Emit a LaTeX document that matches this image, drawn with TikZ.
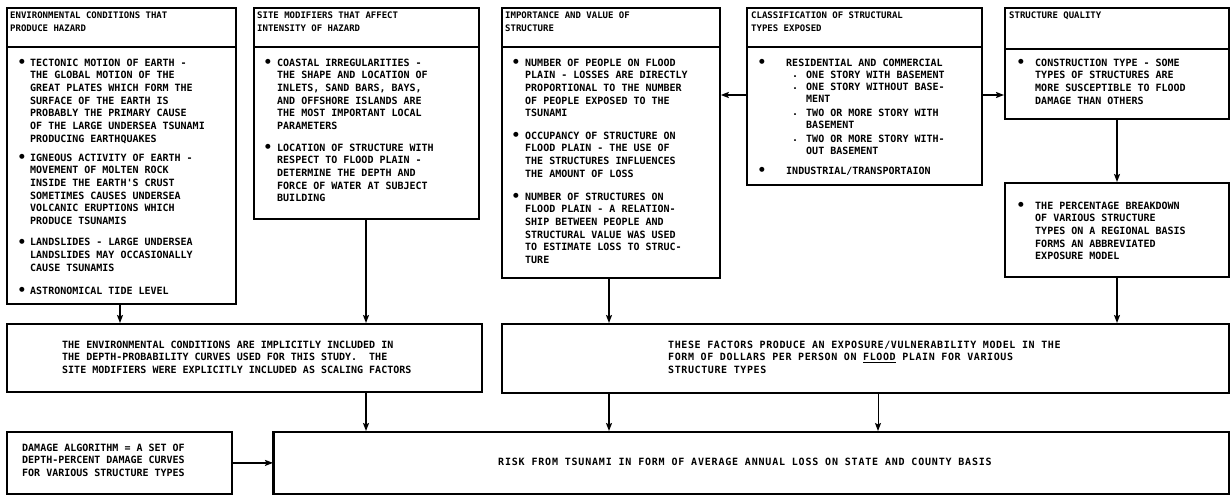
\documentclass[tikz,border=0pt]{standalone}
\usepackage{fontspec}
\newfontfamily\lettering{DejaVu Sans Mono}
\newfontfamily\symbols{DejaVu Sans}
\usetikzlibrary{arrows.meta,calc}
\begin{document}
\begin{tikzpicture}[x=1pt,y=-1pt,
  box/.style={draw, line width=1.8pt, anchor=north west, inner sep=0pt},
  sep/.style={line width=1.8pt},
  txt/.style={anchor=north west, inner sep=0pt, align=left,
    font=\lettering\bfseries\fontsize{10}{12.7}\selectfont},
  head/.style={anchor=north west, inner sep=0pt, align=left,
    font=\lettering\bfseries\fontsize{9}{12.7}\selectfont},
  dot/.style={inner sep=0pt, font=\symbols\fontsize{6.5}{6.5}\selectfont},
  per/.style={anchor=base west, inner sep=0pt,
    font=\lettering\bfseries\fontsize{10}{12.7}\selectfont},
  flow/.style={line width=1.5pt, -{Stealth[length=8pt,width=6pt,inset=1.5pt]}},
  thinflow/.style={line width=0.9pt, -{Stealth[length=8pt,width=6pt,inset=1.5pt]}},
]
\useasboundingbox (0,0) rectangle (1231,495);

% a bullet dot and its text block (dot x, text x, top of first line)
\newcommand\bitem[5]{%
  \node[dot] (#1b) at (#2,#4+3.6) {●};
  \node[txt] (#1) at (#3,#4) {#5};}
% a sub-item led by a small period on the first baseline
\newcommand\pitem[5]{%
  \node[per] (#1b) at (#2,#4+7.3) {.};
  \node[txt] (#1) at (#3,#4) {#5};}

% ---------------- top row of panels ----------------
\node[box, minimum width=229pt, minimum height=296pt] (env)  at (6,7) {};
\node[box, minimum width=225pt, minimum height=211pt] (site) at (253,7) {};
\node[box, minimum width=218pt, minimum height=270pt] (imp)  at (501,7) {};
\node[box, minimum width=235pt, minimum height=177pt] (cls)  at (746,7) {};
\node[box, minimum width=224pt, minimum height=111pt] (qual) at (1004,7) {};
\node[box, minimum width=224pt, minimum height=94pt]  (pct)  at (1004,182) {};

\foreach \p in {env,site,imp,cls}
  \draw[sep] ($(\p.north west)+(0,40)$) -- ($(\p.north east)+(0,40)$);
\draw[sep] ($(qual.north west)+(0,42)$) -- ($(qual.north east)+(0,42)$);

% headers
\node[head] (envh)  at (10,11.5)   {ENVIRONMENTAL CONDITIONS THAT\\PRODUCE HAZARD};
\node[head] (siteh) at (257,11.5)  {SITE MODIFIERS THAT AFFECT\\INTENSITY OF HAZARD};
\node[head] (imph)  at (505,11.5)  {IMPORTANCE AND VALUE OF\\STRUCTURE};
\node[head] (clsh)  at (751,11.5)  {CLASSIFICATION OF STRUCTURAL\\TYPES EXPOSED};
\node[head] (qualh) at (1009,11.5) {STRUCTURE QUALITY};

% environmental conditions
\bitem{e1}{22}{30}{58.4}{TECTONIC MOTION OF EARTH -\\THE GLOBAL MOTION OF THE\\GREAT PLATES WHICH FORM THE\\SURFACE OF THE EARTH IS\\PROBABLY THE PRIMARY CAUSE\\OF THE LARGE UNDERSEA TSUNAMI\\PRODUCING EARTHQUAKES}
\bitem{e2}{22}{30}{153.4}{IGNEOUS ACTIVITY OF EARTH -\\MOVEMENT OF MOLTEN ROCK\\INSIDE THE EARTH'S CRUST\\SOMETIMES CAUSES UNDERSEA\\VOLCANIC ERUPTIONS WHICH\\PRODUCE TSUNAMIS}
\bitem{e3}{22}{30}{238}{LANDSLIDES - LARGE UNDERSEA\\LANDSLIDES MAY OCCASIONALLY\\CAUSE TSUNAMIS}
\bitem{e4}{22}{30}{286.5}{ASTRONOMICAL TIDE LEVEL}

% site modifiers
\bitem{s1}{268}{277}{58.4}{COASTAL IRREGULARITIES -\\THE SHAPE AND LOCATION OF\\INLETS, SAND BARS, BAYS,\\AND OFFSHORE ISLANDS ARE\\THE MOST IMPORTANT LOCAL\\PARAMETERS}
\bitem{s2}{268}{277}{143.4}{LOCATION OF STRUCTURE WITH\\RESPECT TO FLOOD PLAIN -\\DETERMINE THE DEPTH AND\\FORCE OF WATER AT SUBJECT\\BUILDING}

% importance and value
\bitem{i1}{516}{525}{58.4}{NUMBER OF PEOPLE ON FLOOD\\PLAIN - LOSSES ARE DIRECTLY\\PROPORTIONAL TO THE NUMBER\\OF PEOPLE EXPOSED TO THE\\TSUNAMI}
\bitem{i2}{516}{525}{131.4}{OCCUPANCY OF STRUCTURE ON\\FLOOD PLAIN - THE USE OF\\THE STRUCTURES INFLUENCES\\THE AMOUNT OF LOSS}
\bitem{i3}{516}{525}{192.4}{NUMBER OF STRUCTURES ON\\FLOOD PLAIN - A RELATION-\\SHIP BETWEEN PEOPLE AND\\STRUCTURAL VALUE WAS USED\\TO ESTIMATE LOSS TO STRUC-\\TURE}

% classification
\bitem{c1}{762}{786}{58.4}{RESIDENTIAL AND COMMERCIAL}
\pitem{c1a}{792}{806}{70.4}{ONE STORY WITH BASEMENT}
\pitem{c1b}{792}{806}{82.4}{ONE STORY WITHOUT BASE-\\MENT}
\pitem{c1c}{792}{806}{108.4}{TWO OR MORE STORY WITH\\BASEMENT}
\pitem{c1d}{792}{806}{134.4}{TWO OR MORE STORY WITH-\\OUT BASEMENT}
\bitem{c2}{762}{786}{166.4}{INDUSTRIAL/TRANSPORTAION}

% structure quality and breakdown
\bitem{q1}{1021}{1035}{58.4}{CONSTRUCTION TYPE - SOME\\TYPES OF STRUCTURES ARE\\MORE SUSCEPTIBLE TO FLOOD\\DAMAGE THAN OTHERS}
\bitem{p1}{1021}{1035}{201.4}{THE PERCENTAGE BREAKDOWN\\OF VARIOUS STRUCTURE\\TYPES ON A REGIONAL BASIS\\FORMS AN ABBREVIATED\\EXPOSURE MODEL}

% ---------------- middle row ----------------
\node[box, minimum width=475pt, minimum height=68pt] (envinc) at (6,323) {};
\node[box, minimum width=727pt, minimum height=69pt] (expo)   at (501,323) {};
\node[txt] (envinct) at (62,340.4) {THE ENVIRONMENTAL CONDITIONS ARE IMPLICITLY INCLUDED IN\\THE DEPTH-PROBABILITY CURVES USED FOR THIS STUDY.~~THE\\SITE MODIFIERS WERE EXPLICITLY INCLUDED AS SCALING FACTORS};
\node[txt, font=\lettering\bfseries\fontsize{10}{12.7}\selectfont\addfontfeature{LetterSpace=6}] (expot) at (668,340.4) {THESE FACTORS PRODUCE AN EXPOSURE/VULNERABILITY MODEL IN THE\\FORM OF DOLLARS PER PERSON ON \underline{FLOOD} PLAIN FOR VARIOUS\\STRUCTURE TYPES};

% ---------------- bottom row ----------------
\node[box, minimum width=225pt, minimum height=62pt] (dmg)  at (6,431) {};
\node[box, minimum width=955pt, minimum height=62pt] (risk) at (273,431) {};
\draw[line width=3pt] (risk.north west) -- (risk.south west);
\node[txt] (dmgt) at (22,443.4) {DAMAGE ALGORITHM = A SET OF\\DEPTH-PERCENT DAMAGE CURVES\\FOR VARIOUS STRUCTURE TYPES};
\node[inner sep=0pt, font=\lettering\bfseries\fontsize{10}{12.7}\selectfont\addfontfeature{LetterSpace=8}] (riskt) at (745,462) {RISK FROM TSUNAMI IN FORM OF AVERAGE ANNUAL LOSS ON STATE AND COUNTY BASIS};

% ---------------- connectors ----------------
\coordinate (xa) at (120,0);
\coordinate (xb) at (366,0);
\coordinate (xc) at (609,0);
\coordinate (xd) at (1117,0);
\coordinate (xe) at (878,0);
\coordinate (yh) at (0,95);

\draw[flow] (env.south -| xa) -- (envinc.north -| xa);
\draw[flow] (site.south -| xb) -- (envinc.north -| xb);
\draw[flow] (envinc.south -| xb) -- (risk.north -| xb);
\draw[flow] (imp.south -| xc) -- (expo.north -| xc);
\draw[flow] (qual.south -| xd) -- (pct.north -| xd);
\draw[flow] (pct.south -| xd) -- (expo.north -| xd);
\draw[flow] (expo.south -| xc) -- (risk.north -| xc);
\draw[thinflow] (expo.south -| xe) -- (risk.north -| xe);
\draw[flow] (dmg.east) -- (risk.west |- dmg.east);
\draw[flow] (cls.west |- yh) -- (imp.east |- yh);
\draw[flow] (cls.east |- yh) -- (qual.west |- yh);
\end{tikzpicture}
\end{document}
